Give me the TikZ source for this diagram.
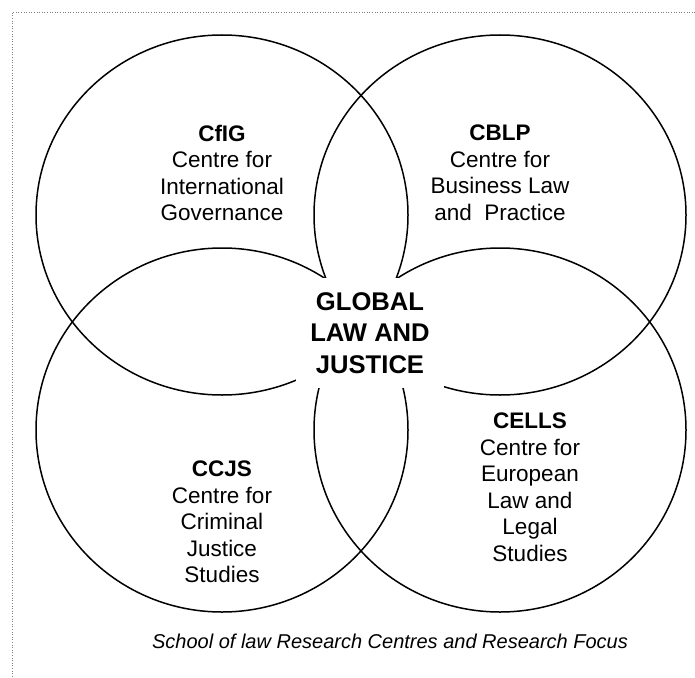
\documentclass[tikz,border=0pt]{standalone}
\usepackage{fontspec}
\setmainfont{Liberation Sans}
\usetikzlibrary{shapes.geometric}
\begin{document}
\begin{tikzpicture}[x=1pt, y=-1pt, every node/.style={font=\fontsize{22.5}{26.5}\selectfont, align=center}, centre/.style={draw, ellipse, line width=1.5pt, minimum width=372pt, inner sep=0pt}, hub/.style={fill=white, inner xsep=14pt, inner ysep=14pt, font=\fontsize{25.6}{31.5}\selectfont\bfseries}, frame/.style={dotted, gray, line width=0.6pt}]
\useasboundingbox (0,0) rectangle (695,677);
\draw[frame] (695,12) -- (12,12) -- (12,677);
\foreach \cx/\cy/\hh/\nm in {222/215/360/ul,500/215/360/ur,222/430/364/ll,500/430/364/lr} {\node[centre, minimum height=\hh pt] (\nm) at (\cx,\cy) {};}
\node (cfig) at (222,173) {\textbf{CfIG}\\Centre for\\International\\Governance};
\node (cblp) at (500,173) {\textbf{CBLP}\\Centre for\\Business Law\\and~ Practice};
\node (ccjs) at (222,522) {\textbf{CCJS}\\Centre for\\Criminal\\Justice\\Studies};
\node (cells) at (530,487) {\textbf{CELLS}\\Centre for\\European\\Law and\\Legal\\Studies};
\node[hub] (glj) at (370,333) {GLOBAL\\LAW AND\\JUSTICE};
\node[font=\fontsize{20}{24}\selectfont\itshape] (caption) at (390,641) {School of law Research Centres and Research Focus};
\end{tikzpicture}
\end{document}
